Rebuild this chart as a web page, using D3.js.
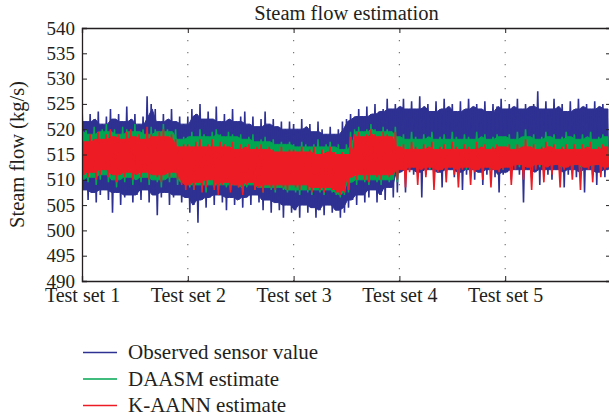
<!DOCTYPE html>
<html><head><meta charset="utf-8">
<script src="https://cdn.jsdelivr.net/npm/d3@7"></script>
<style>
html,body{margin:0;padding:0;background:#fff;}
text{font-family:"Liberation Serif","Times New Roman",serif;fill:#231f20;}
</style></head>
<body><svg id="chart" width="609" height="417"></svg>
<script>
// ---- data (26 samples per test set) ----
const testSets = ["Test set 1","Test set 2","Test set 3","Test set 4","Test set 5"];
const yTicks = [490,495,500,505,510,515,520,525,530,535,540];
const seriesNames = ["Observed sensor value","DAASM estimate","K-AANN estimate"];

const observedUpper = [
525,521.5,523,522,523.5,521,522.5,524,522,523,521.5,524.5,522,523,521,522.5,526.5,525,524,521.5,523,522,524,521.5,522.5,521,
522.5,524,523,525,522,523.5,522,524.5,521.5,523,522,524,521.5,522.5,523.5,521,522.5,520.5,522,523.5,521,522,520.5,521.5,520,521.5,
521,520,522,520.5,521,519.5,521.5,520,519,520.5,519,520,521.5,522,523,522.5,524,522.5,524.5,523,525,523.5,524,526,524,525,
524.5,526,524,525.5,524,526.5,524.5,525,523.5,525.5,524,526,524.5,525,523.5,525.5,524,526,524.5,525,524,525.5,523.5,525,524.5,526,
524,525,524.5,526,524,525,524.5,525,527.5,524,525.5,524,526,524.5,525,523.5,525.5,524,526,524.5,525,524,525.5,524.5,525,524];
const observedLower = [
508,506,507.5,505.5,507,508,506,503.5,507.5,505,506.5,507,505.5,507,506,508,505.5,507,503,506.5,507.5,505,506.5,507,505.5,506.5,
503.5,505,501.5,506,504.5,506.5,505,507,505.5,504,506.5,505,506,504.5,506.5,505,507,505.5,504,506,503.5,505.5,504,502.5,505,503.5,
504,502.5,505,503.5,504.5,502.5,504,503,505,503.5,504,502.5,503.5,504.5,506,505,507,505.5,506.5,508,505.5,507,506,508.5,506.5,507.5,
511.5,507.5,512,511,511.5,506.5,511,512,510,511.5,508.5,511,512,510.5,511.5,508,511,512,510,511.5,509,511,512,510.5,507.5,511,
511.5,510,512,511,505.5,512,510.5,511.5,509,512,511,510,512,511.5,508.5,511,512,510.5,511.5,507.5,512,511,509,511.5,510.5,512];
const daasmUpper = [
519.5,520,519,520.5,519.5,520,521,519.5,520,519,520.5,520,519.5,521,519.5,520,519,520.5,520,519.5,521,520,519.5,520,518,518.5,
518.5,519.5,518.5,520,519,518.5,519.5,520,519,518.5,519.5,519,518.5,519,518,518.5,519,517.5,518,518.5,517.5,518,517,517.5,517,517.5,
517,516.5,517.5,517,516.5,517,518,516.5,517,517.5,516.5,517,516,517,519.5,520,520.5,519.5,520,521,520,519.5,520.5,520,519.5,520.5,
518.5,519,518,519.5,518.5,518,519,518.5,519.5,518,518.5,519,518,519.5,518.5,518,519,518.5,518,519.5,518.5,519,518,518.5,519,518.5,
518.5,519,518,519.5,518.5,520,518.5,519,518,518.5,519.5,518.5,519,518,518.5,519.5,518.5,519,518,519,518.5,519.5,518,518.5,519,518.5];
const daasmLower = [
510,509.5,510.5,509,510,511,509.5,510,508.5,510,509.5,510.5,509,510,509.5,510.5,509,510,509.5,508.5,510,509.5,510.5,509,509.5,509,
508.5,508,509,508.5,507.5,509,508.5,508,509,508.5,508,509,508.5,507.5,508.5,509,508,508.5,507.5,508.5,508,507.5,508.5,508,507.5,508,
507.5,507,508,507.5,507,508,507.5,507,508,507.5,507,506.5,507,507.5,509.5,509,510,509.5,509,510,509.5,509,510,509.5,510,509.5,
512.5,512,513,512.5,512,513,512.5,512,513,512.5,512,513,512.5,512,513,512.5,512,513,512.5,512,513,512.5,512,513,512.5,512,
513,512.5,513,512.5,513.5,513,512.5,513,512.5,513.5,513,512.5,513,512.5,513.5,513,512.5,513,512.5,513.5,513,512.5,513,512.5,513.5,513];
const kaannUpper = [
518.5,517.5,519,518,519.5,518,519,520,518.5,519,518,519.5,520,518.5,519,518,520.5,519,518.5,519.5,520,518.5,519,518,516.5,517,
517,516.5,517.5,518,516.5,517,518,516.5,517.5,517,516.5,517.5,516,517,516.5,517,516,516.5,517,516,516.5,516,515.5,516.5,515.5,516,
516,515.5,516.5,515.5,516,516.5,515,516,515.5,516.5,515.5,515,515.5,515,518.5,519,519.5,518.5,519,520,519,518.5,519.5,519,518.5,519.5,
516.5,517,516,517.5,516.5,516,517,516.5,517.5,516,516.5,517,516,517.5,516.5,516,517,516.5,516,517.5,516.5,517,516,516.5,517,516.5,
516.5,517,516,517,516.5,518,516.5,517,516,516.5,517.5,516.5,517,516,516.5,517,516,517,516,517,516.5,517.5,516,516.5,517,516.5];
const kaannLower = [
511,510.5,511.5,510,511,512,510.5,511,509.5,511,510.5,511.5,510,511,510.5,511.5,510,511,510.5,509.5,511,510.5,511.5,510,509,508,
509,508,509.5,507.5,508.5,510,508,507,509,509.5,507.5,509,508.5,507,509,509.5,508,508.5,507.5,509,508.5,508,509,508.5,508,509,
508.5,508,509,508,507.5,508.5,508,507.5,508.5,508,507.5,507,507.5,508,510.5,510,511,510,509.5,511,510.5,510,511,510.5,511,510,
512,508.5,511.5,512.5,509,512,510.5,512.5,508,511.5,512,509.5,512.5,511,508.5,512,512.5,509,511.5,512,510,512.5,508.5,512,511.5,512,
512.5,509,512,513,510,512.5,508,512,513,509.5,512.5,511,513,508.5,512,512.5,510,513,508,512.5,512,509.5,513,510.5,512,512.5];

const colors = ["#2e3192","#00a651","#ed1c24"];

// ---- layout ----
const svg = d3.select("#chart");
const L = 82, T = 28, R = 611, B = 281;
const samplesPerSet = 26;
const nSamples = observedUpper.length;
const x = d3.scaleLinear().domain([0, nSamples]).range([L, R]);
const y = d3.scaleLinear().domain([490, 540]).range([B, T]);

svg.append("defs").append("clipPath").attr("id","clip")
  .append("rect").attr("x",L).attr("y",T).attr("width",R-L).attr("height",B-T);

const setStarts = testSets.map((d,i)=>i*samplesPerSet);

// grid (dotted vertical)
svg.append("g").selectAll("line").data(setStarts.slice(1)).join("line")
  .attr("x1",d=>x(d)).attr("x2",d=>x(d)).attr("y1",T).attr("y2",B)
  .attr("stroke","#777").attr("stroke-width",1.2).attr("stroke-dasharray","1.2,10.8");

// series: a solid core band plus a trace swinging between each sample's high and low reading
const bands = [
  [observedUpper, observedLower],
  [daasmUpper, daasmLower],
  [kaannUpper, kaannLower]
];
const g = svg.append("g").attr("clip-path","url(#clip)");
const line = d3.line().x(p=>x(p[0])).y(p=>y(p[1]));
bands.forEach(([up, lo], k) => {
  const n = up.length;
  const nb = i => [Math.max(0,i-1), i, Math.min(n-1,i+1)];
  const core = d3.area()
    .x(i=>x(i+0.25))
    .y1(i=>y(d3.min(nb(i), j=>up[j])))
    .y0(i=>y(d3.max(nb(i), j=>lo[j])));
  g.append("path").datum(d3.range(n)).attr("d", core)
    .attr("fill", colors[k]).attr("stroke", colors[k]).attr("stroke-width",1);
  const pts = [];
  up.forEach((v,i)=>{ pts.push([i, v]); pts.push([i+0.5, lo[i]]); });
  pts.push([n, up[n-1]]);
  g.append("path").datum(pts).attr("d", line)
    .attr("fill","none").attr("stroke", colors[k]).attr("stroke-width",1.6)
    .attr("stroke-linejoin","miter").attr("stroke-miterlimit",2);
});

// axes
const yfs = "19px", xfs = "20px";
const yAxisL = d3.axisLeft(y).tickValues(yTicks).tickSize(-5).tickPadding(7).tickFormat(d3.format("d"));
const gy = svg.append("g").attr("transform",`translate(${L},0)`).call(yAxisL);
gy.selectAll("text").style("font-size",yfs);
const gyR = svg.append("g").attr("transform",`translate(${R},0)`)
  .call(d3.axisRight(y).tickValues(yTicks).tickSize(-5).tickFormat(""));
const xAxisB = d3.axisBottom(x).tickValues(setStarts).tickSize(-5).tickPadding(7).tickFormat((d,i)=>testSets[i]);
const gx = svg.append("g").attr("transform",`translate(0,${B})`).call(xAxisB);
gx.selectAll("text").style("font-size",xfs);
const gxT = svg.append("g").attr("transform",`translate(0,${T})`)
  .call(d3.axisTop(x).tickValues(setStarts).tickSize(-5).tickFormat(""));
[gy,gyR,gx,gxT].forEach(a=>{
  a.select(".domain").attr("stroke","#231f20").attr("stroke-width",1.3);
  a.selectAll(".tick line").attr("stroke","#231f20").attr("stroke-width",1);
});
gx.selectAll("text").attr("dy","0.71em");

// title
svg.append("text").attr("x",(L+R)/2).attr("y",20).attr("text-anchor","middle")
  .style("font-size","20.5px").text("Steam flow estimation");
// y label
svg.append("text").attr("transform",`translate(24,${(T+B)/2}) rotate(-90)`)
  .attr("text-anchor","middle").style("font-size","20.5px").text("Steam flow (kg/s)");

// legend
const lg = svg.append("g");
seriesNames.forEach((name,i)=>{
  const yy = 352.5 + i*26.5;
  lg.append("line").attr("x1",83).attr("x2",117).attr("y1",yy).attr("y2",yy)
    .attr("stroke",colors[i]).attr("stroke-width",1.3);
  lg.append("text").attr("x",128).attr("y",yy+6.5).style("font-size","21px").text(name);
});
</script></body></html>
